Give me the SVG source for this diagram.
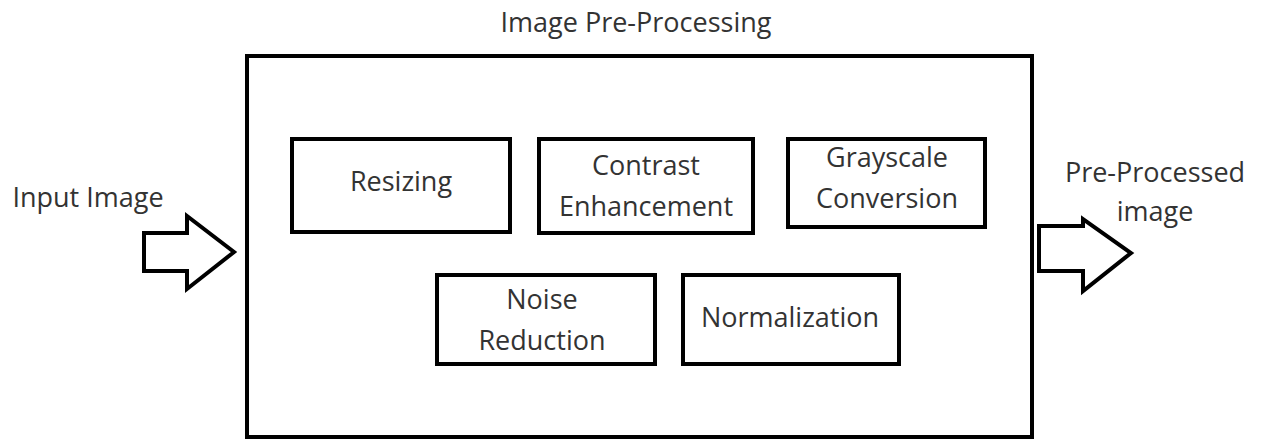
<svg xmlns="http://www.w3.org/2000/svg" width="1267" height="443" viewBox="0 0 1267 443">
<style>
.box{fill:#fff;stroke:#000;stroke-width:4}
.arr{fill:#fff;stroke:#000;stroke-width:4;stroke-linejoin:miter}
text{font-family:"Open Sans","Liberation Sans",sans-serif;font-size:27px;fill:#333;text-anchor:middle}
</style>
<rect width="1267" height="443" fill="#fff"/>
<g id="preprocessing">
<rect class="box" x="247" y="56" width="785" height="381"/>
<text x="636" y="32">Image Pre-Processing</text>
</g>
<g id="resizing">
<rect class="box" x="292" y="139" width="218" height="93"/>
<text x="401" y="191">Resizing</text>
</g>
<g id="contrast">
<rect class="box" x="539" y="139" width="214" height="94"/>
<text x="646" y="175">Contrast</text>
<text x="646" y="216">Enhancement</text>
</g>
<g id="grayscale">
<rect class="box" x="788" y="139" width="197" height="88"/>
<text x="887" y="167">Grayscale</text>
<text x="887" y="208">Conversion</text>
</g>
<g id="noise">
<rect class="box" x="437" y="275" width="218" height="89"/>
<text x="542" y="309">Noise</text>
<text x="542" y="350">Reduction</text>
</g>
<g id="normalization">
<rect class="box" x="683" y="275" width="216" height="89"/>
<text x="790" y="327">Normalization</text>
</g>
<g id="input">
<text x="88" y="207">Input Image</text>
</g>
<g id="output">
<text x="1155" y="182">Pre-Processed</text>
<text x="1155" y="221">image</text>
</g>
<g id="connectors">
<polygon class="arr" points="144,233 187,233 187,216 234,252 187,289 187,271 144,271"/>
<polygon class="arr" points="1039,226 1083,226 1083,219 1131,253 1083,291 1083,271 1039,271"/>
</g>
</svg>
